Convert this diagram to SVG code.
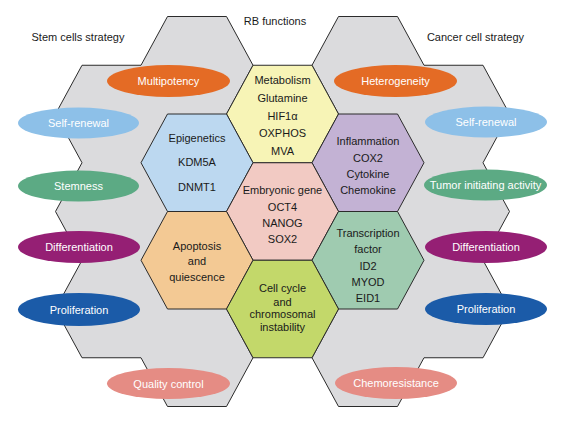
<svg xmlns="http://www.w3.org/2000/svg" xmlns:xlink="http://www.w3.org/1999/xlink" width="568" height="428" viewBox="0 0 568 428">
<style>
text{font-family:"Liberation Sans",Arial,sans-serif;font-size:11px;text-anchor:middle;fill:#1a1a1a}
.w{fill:#ffffff}
.bg{fill:#dbdbdd;stroke:#2b2b2b;stroke-width:1}
.hx{stroke:#2b2b2b;stroke-width:1}
</style>
<defs>
<polygon id="hex" points="-56,0 -29.5,-48.75 29.5,-48.75 56,0 29.5,48.75 -29.5,48.75"/>
</defs>
<rect width="568" height="428" fill="#ffffff"/>
<g id="background">
<polygon class="bg" points="167.5,16.5 226.5,16.5 253,65.25 226.5,114 253,162.75 226.5,211.5 253,260.25 226.5,309 253,357.75 226.5,406.5 167.5,406.5 141,357.75 82,357.75 55.5,309 82,260.25 55.5,211.5 82,162.75 55.5,114 82,65.25 141,65.25"/>
<polygon class="bg" points="397.5,16.5 338.5,16.5 312,65.25 338.5,114 312,162.75 338.5,211.5 312,260.25 338.5,309 312,357.75 338.5,406.5 397.5,406.5 424,357.75 483,357.75 509.5,309 483,260.25 509.5,211.5 483,162.75 509.5,114 483,65.25 424,65.25"/>
</g>
<g id="titles">
<text x="275" y="25">RB functions</text>
<text x="78" y="41">Stem cells strategy</text>
<text x="475.5" y="41">Cancer cell strategy</text>
</g>
<g id="connectors"></g>
<g id="metabolism">
<use xlink:href="#hex" class="hx" fill="#f7f4b6" transform="translate(282.5,114)"/>
<text x="282.5" y="84">Metabolism</text>
<text x="282.5" y="102">Glutamine</text>
<text x="282.5" y="120">HIF1α</text>
<text x="282.5" y="137">OXPHOS</text>
<text x="282.5" y="155">MVA</text>
</g>
<g id="epigenetics">
<use xlink:href="#hex" class="hx" fill="#bcd8f0" transform="translate(197,162.75)"/>
<text x="197" y="142">Epigenetics</text>
<text x="197" y="166">KDM5A</text>
<text x="197" y="191">DNMT1</text>
</g>
<g id="inflammation">
<use xlink:href="#hex" class="hx" fill="#c3b2d4" transform="translate(368,162.75)"/>
<text x="368" y="145">Inflammation</text>
<text x="368" y="162">COX2</text>
<text x="368" y="178">Cytokine</text>
<text x="368" y="194">Chemokine</text>
</g>
<g id="embryonic">
<use xlink:href="#hex" class="hx" fill="#f2cac3" transform="translate(282.5,211.5)"/>
<text x="282.5" y="194">Embryonic gene</text>
<text x="282.5" y="211">OCT4</text>
<text x="282.5" y="227">NANOG</text>
<text x="282.5" y="243">SOX2</text>
</g>
<g id="apoptosis">
<use xlink:href="#hex" class="hx" fill="#f3c994" transform="translate(197,260.25)"/>
<text x="197" y="250">Apoptosis</text>
<text x="197" y="265">and</text>
<text x="197" y="281">quiescence</text>
</g>
<g id="transcription">
<use xlink:href="#hex" class="hx" fill="#9fcbb0" transform="translate(368,260.25)"/>
<text x="368" y="237">Transcription</text>
<text x="368" y="253">factor</text>
<text x="368" y="270">ID2</text>
<text x="368" y="286">MYOD</text>
<text x="368" y="302">EID1</text>
</g>
<g id="cellcycle">
<use xlink:href="#hex" class="hx" fill="#c3d86a" transform="translate(282.5,309)"/>
<text x="282.5" y="292">Cell cycle</text>
<text x="282.5" y="306">and</text>
<text x="282.5" y="318">chromosomal</text>
<text x="282.5" y="331">instability</text>
</g>
<g id="multipotency"><ellipse cx="168.5" cy="81" rx="61.5" ry="16" fill="#e46b25"/><text class="w" x="168.5" y="85">Multipotency</text></g>
<g id="self-renewal-stem"><ellipse cx="78.5" cy="123" rx="60.5" ry="15.5" fill="#8dc0e8"/><text class="w" x="78.5" y="127">Self-renewal</text></g>
<g id="stemness"><ellipse cx="78.5" cy="186" rx="60.5" ry="15.5" fill="#5caa84"/><text class="w" x="78.5" y="190">Stemness</text></g>
<g id="differentiation-stem"><ellipse cx="79" cy="247" rx="61" ry="16" fill="#951f74"/><text class="w" x="79" y="251">Differentiation</text></g>
<g id="proliferation-stem"><ellipse cx="79" cy="309.5" rx="61" ry="16.5" fill="#1b5ba8"/><text class="w" x="79" y="313.5">Proliferation</text></g>
<g id="quality-control"><ellipse cx="168.5" cy="383.5" rx="61.5" ry="15.5" fill="#e58c84"/><text class="w" x="168.5" y="387.5">Quality control</text></g>
<g id="heterogeneity"><ellipse cx="395.5" cy="81" rx="61.5" ry="16" fill="#e46b25"/><text class="w" x="395.5" y="85">Heterogeneity</text></g>
<g id="self-renewal-cancer"><ellipse cx="486" cy="122" rx="61" ry="15.5" fill="#8dc0e8"/><text class="w" x="486" y="126">Self-renewal</text></g>
<g id="tumor-initiating"><ellipse cx="485.5" cy="185" rx="61.5" ry="15.5" fill="#5caa84"/><text class="w" x="485.5" y="189">Tumor initiating activity</text></g>
<g id="differentiation-cancer"><ellipse cx="486" cy="247" rx="61" ry="16" fill="#951f74"/><text class="w" x="486" y="251">Differentiation</text></g>
<g id="proliferation-cancer"><ellipse cx="486" cy="309" rx="61" ry="16" fill="#1b5ba8"/><text class="w" x="486" y="313">Proliferation</text></g>
<g id="chemoresistance"><ellipse cx="396" cy="383" rx="61" ry="16" fill="#e58c84"/><text class="w" x="396" y="387">Chemoresistance</text></g>
</svg>
